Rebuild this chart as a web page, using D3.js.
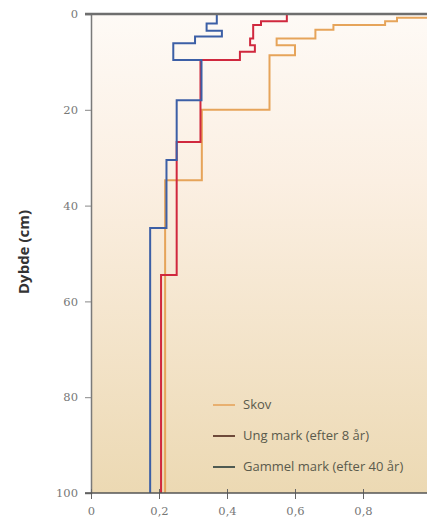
<!DOCTYPE html>
<html>
<head>
<meta charset="utf-8">
<script src="https://cdn.jsdelivr.net/npm/d3@7"></script>
<style>
  body { margin: 0; background: #fff; }
</style>
</head>
<body>
<div id="chart"></div>
<script>
// depth breakpoints (cm) and value of each step between them
const skovDepth = [0, 0.8, 1.5, 2.3, 3.3, 5.1, 6.5, 8.6, 20, 34.7, 100];
const skovValue = [1.0, 0.90, 0.865, 0.713, 0.66, 0.546, 0.60, 0.525, 0.326, 0.218];

const ungDepth = [0, 1.5, 2.3, 5.1, 6.5, 7.9, 9.6, 26.7, 54.5, 100];
const ungValue = [0.576, 0.50, 0.477, 0.468, 0.482, 0.438, 0.322, 0.252, 0.206];

const gammelDepth = [0, 2, 3.5, 4.7, 6.1, 9.6, 18, 30.5, 44.7, 100];
const gammelValue = [0.37, 0.34, 0.385, 0.306, 0.242, 0.325, 0.252, 0.222, 0.174];

const yTicks = [0, 20, 40, 60, 80, 100];
const xTicks = [0, 0.2, 0.4, 0.6, 0.8];
const legendLabels = ["Skov", "Ung mark (efter 8 år)", "Gammel mark (efter 40 år)"];

const width = 427, height = 520;
const margin = { top: 14, left: 91, bottom: 27 };

const svg = d3.select("#chart")
    .append("svg")
    .attr("width", width)
    .attr("height", height);

const x = d3.scaleLinear().domain([0, 1]).range([margin.left, margin.left + 340]);
const y = d3.scaleLinear().domain([0, 100]).range([margin.top, height - margin.bottom]);

// background gradient
const defs = svg.append("defs");
const grad = defs.append("linearGradient")
    .attr("id", "bg")
    .attr("x1", 0).attr("y1", 0).attr("x2", 0).attr("y2", 1);
grad.append("stop").attr("offset", "0%").attr("stop-color", "#fefaf6");
grad.append("stop").attr("offset", "35%").attr("stop-color", "#fbefe2");
grad.append("stop").attr("offset", "100%").attr("stop-color", "#ecd9b3");

svg.append("rect")
    .attr("x", x(0))
    .attr("y", y(0))
    .attr("width", width - x(0))
    .attr("height", y(100) - y(0))
    .attr("fill", "url(#bg)");

// step profiles
function steps(depth, value) {
    const pts = [];
    value.forEach((v, i) => {
        pts.push([v, depth[i]]);
        pts.push([v, depth[i + 1]]);
    });
    return pts;
}

const line = d3.line()
    .x(d => x(d[0]))
    .y(d => y(d[1]));

const series = [
    { depth: skovDepth, value: skovValue, color: "#e6a45a" },
    { depth: ungDepth, value: ungValue, color: "#d0283e" },
    { depth: gammelDepth, value: gammelValue, color: "#3c5fa6" }
];

series.forEach(s => {
    svg.append("path")
        .attr("d", line(steps(s.depth, s.value)))
        .attr("fill", "none")
        .attr("stroke", s.color)
        .attr("stroke-width", 2);
});

// axes
const axisFont = "Georgia, 'DejaVu Serif', serif";

const yAxis = svg.append("g")
    .attr("transform", `translate(${x(0)},0)`)
    .call(d3.axisLeft(y).tickValues(yTicks).tickSize(6).tickPadding(7));
yAxis.select(".domain").attr("stroke", "#7a7a7a").attr("stroke-width", 1.5);
yAxis.selectAll(".tick line").attr("stroke", "#888");
yAxis.selectAll(".tick text")
    .style("font-family", axisFont)
    .style("font-size", "11.5px")
    .attr("fill", "#777");

const xAxis = svg.append("g")
    .attr("transform", `translate(0,${y(100)})`)
    .call(d3.axisBottom(x).tickValues(xTicks).tickSize(6).tickPadding(8)
        .tickFormat(d => d === 0 ? "0" : String(d).replace(".", ",")));
xAxis.select(".domain").remove();
xAxis.selectAll(".tick line").attr("y1", -4).attr("stroke", "#666");
xAxis.selectAll(".tick text")
    .style("font-family", axisFont)
    .style("font-size", "11.5px")
    .attr("fill", "#777");

// top and bottom lines
svg.append("line")
    .attr("x1", x(0) - 6).attr("x2", width)
    .attr("y1", y(0)).attr("y2", y(0))
    .attr("stroke", "#6e6e6e").attr("stroke-width", 2.5);
svg.append("line")
    .attr("x1", x(0) - 6).attr("x2", width)
    .attr("y1", y(100)).attr("y2", y(100))
    .attr("stroke", "#555").attr("stroke-width", 1.5);

// y label
svg.append("text")
    .attr("transform", `translate(29,252) rotate(-90)`)
    .attr("text-anchor", "middle")
    .style("font-family", "'Open Sans', sans-serif")
    .style("font-weight", "bold")
    .style("font-size", "15px")
    .attr("fill", "#333")
    .text("Dybde (cm)");

// legend
const legendColors = ["#e8b070", "#6e4a3a", "#4e5a52"];
const legend = svg.append("g").attr("transform", "translate(213,405)");
legendLabels.forEach((label, i) => {
    const row = legend.append("g").attr("transform", `translate(0,${i * 31})`);
    row.append("line")
        .attr("x1", 0).attr("x2", 22)
        .attr("stroke", legendColors[i])
        .attr("stroke-width", 2);
    row.append("text")
        .attr("x", 30)
        .attr("y", 4)
        .style("font-family", "'Open Sans', sans-serif")
        .style("font-size", "13px")
        .attr("fill", "#5a5a4c")
        .text(label);
});
</script>
</body>
</html>
